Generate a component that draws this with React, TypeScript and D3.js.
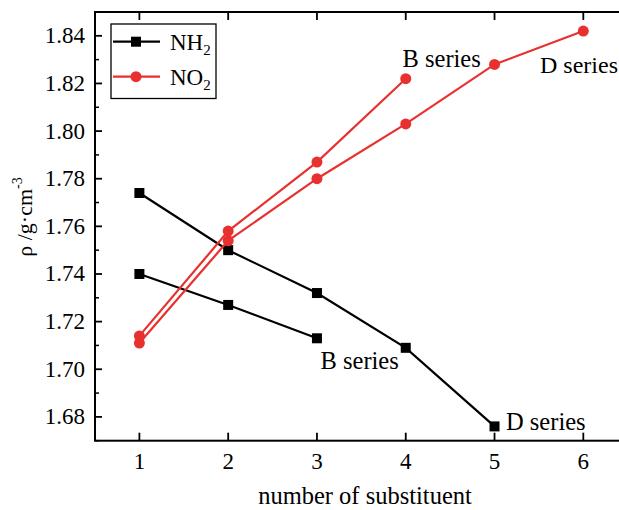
import React from "react";
import * as d3 from "d3";

const nh2D_x = [1, 2, 3, 4, 5];
const nh2D_y = [1.774, 1.750, 1.732, 1.709, 1.676];
const nh2B_x = [1, 2, 3];
const nh2B_y = [1.740, 1.727, 1.713];
const no2B_x = [1, 2, 3, 4];
const no2B_y = [1.714, 1.758, 1.787, 1.822];
const no2D_x = [1, 2, 3, 4, 5, 6];
const no2D_y = [1.711, 1.754, 1.780, 1.803, 1.828, 1.842];
const xTicks = [1, 2, 3, 4, 5, 6];
const yTicks = [1.68, 1.70, 1.72, 1.74, 1.76, 1.78, 1.80, 1.82, 1.84];
const yMinor = [1.67, 1.69, 1.71, 1.73, 1.75, 1.77, 1.79, 1.81, 1.83, 1.85];

const W = 619, H = 510;
const L = 95, R = 627.7, T = 12, B = 440.7;
const RED = "#e8312f";
const FONT = "Liberation Serif";

export default function App() {
  const x = d3.scaleLinear().domain([0.5, 6.5]).range([L, R]);
  const y = d3.scaleLinear().domain([1.67, 1.85]).range([B, T]);
  const line = d3.line<[number, number]>().x(d => x(d[0])).y(d => y(d[1]));
  const pts = (xs: number[], ys: number[]) => xs.map((v, i) => [v, ys[i]] as [number, number]);

  const series = [
    { p: pts(nh2D_x, nh2D_y), c: "#000", sq: true },
    { p: pts(nh2B_x, nh2B_y), c: "#000", sq: true },
    { p: pts(no2B_x, no2B_y), c: RED, sq: false },
    { p: pts(no2D_x, no2D_y), c: RED, sq: false },
  ];

  return (
    <svg width={W} height={H} style={{ position: "absolute", left: 0, top: 0, background: "#fff", fontFamily: FONT }}>
      <rect x={0} y={0} width={W} height={H} fill="#fff" />
      {series.map((s, i) => (
        <g key={i}>
          <path d={line(s.p) || ""} fill="none" stroke={s.c} strokeWidth={2.2} />
          {s.p.map((d, j) =>
            s.sq ? (
              <rect key={j} x={x(d[0]) - 5} y={y(d[1]) - 5} width={10} height={10} fill={s.c} />
            ) : (
              <circle key={j} cx={x(d[0])} cy={y(d[1])} r={5.5} fill={s.c} />
            )
          )}
        </g>
      ))}
      <rect x={L} y={T} width={R - L} height={B - T} fill="none" stroke="#000" strokeWidth={2} />
      {xTicks.map(t => (
        <g key={t}>
          <line x1={x(t)} x2={x(t)} y1={B} y2={B - 8} stroke="#000" strokeWidth={1.8} />
          <line x1={x(t)} x2={x(t)} y1={T} y2={T + 8} stroke="#000" strokeWidth={1.8} />
          <text x={x(t)} y={469} fontSize={23} textAnchor="middle">{t}</text>
        </g>
      ))}
      {yTicks.map(t => (
        <g key={t}>
          <line x1={L} x2={L + 7} y1={y(t)} y2={y(t)} stroke="#000" strokeWidth={1.8} />
          <line x1={R} x2={R - 7} y1={y(t)} y2={y(t)} stroke="#000" strokeWidth={1.8} />
          <text x={85} y={y(t) + 7.5} fontSize={23} textAnchor="end">{t.toFixed(2)}</text>
        </g>
      ))}
      {yMinor.map(t => (
        <g key={t}>
          <line x1={L} x2={L + 4} y1={y(t)} y2={y(t)} stroke="#000" strokeWidth={1.5} />
          <line x1={R} x2={R - 4} y1={y(t)} y2={y(t)} stroke="#000" strokeWidth={1.5} />
        </g>
      ))}
      <text x={365} y={504} fontSize={24.5} textAnchor="middle">number of substituent</text>
      <text transform={`translate(32,217) rotate(-90)`} fontSize={22} textAnchor="middle">
        ρ /g·cm<tspan dy={-10} fontSize={14}>-3</tspan>
      </text>
      <text x={402.5} y={66.7} fontSize={24.5}>B series</text>
      <text x={540} y={73.3} fontSize={24}>D series</text>
      <text x={320.5} y={369.3} fontSize={24.5}>B series</text>
      <text x={506} y={430} fontSize={24.5}>D series</text>
      <rect x={111} y={24} width={105} height={74.5} fill="#fff" stroke="#000" strokeWidth={1.3} />
      <line x1={113} x2={160} y1={41.7} y2={41.7} stroke="#000" strokeWidth={2.2} />
      <rect x={136 - 5} y={41.7 - 5} width={10} height={10} fill="#000" />
      <text x={170} y={50} fontSize={23}>NH<tspan dy={5} fontSize={15}>2</tspan></text>
      <line x1={113} x2={160} y1={76.7} y2={76.7} stroke={RED} strokeWidth={2.2} />
      <circle cx={136} cy={76.7} r={5.5} fill={RED} />
      <text x={170} y={85} fontSize={23}>NO<tspan dy={5} fontSize={15}>2</tspan></text>
    </svg>
  );
}
